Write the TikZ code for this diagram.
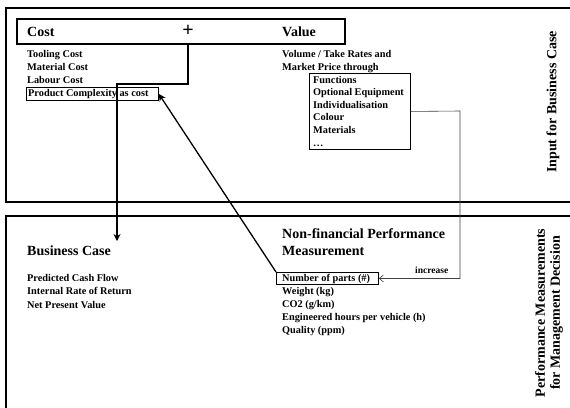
\documentclass[tikz,border=0pt]{standalone}
\usepackage{fontspec}
\setmainfont{Liberation Serif}
\usetikzlibrary{arrows.meta}
\begin{document}
\begin{tikzpicture}[x=1pt,y=-1pt,
  txt/.style={anchor=base west, inner sep=0pt, font=\bfseries\fontsize{10.3}{12}\selectfont},
  head/.style={anchor=base west, inner sep=0pt, font=\bfseries\fontsize{14}{16}\selectfont},
  side/.style={font=\bfseries\fontsize{14}{15}\selectfont, rotate=90, align=center, inner sep=0pt},
  frame/.style={draw, line width=1.5pt},
  boxn/.style={draw, anchor=north west, inner sep=0pt},
  thickarrow/.style={line width=1.3pt, -{Stealth[length=7pt,width=7pt]}},
  thinarrow/.style={line width=0.6pt, draw=black!75, -{Straight Barb[length=4pt,width=7pt]}}
]
\clip (0,0) rectangle (570,407);
% outer frames
\draw[frame] (6,8) rectangle (585,202);
\draw[frame] (6,216) rectangle (585,420);
% header box
\node[boxn, line width=1.5pt, minimum width=328pt, minimum height=25pt] (hdr) at (16,18) {};
\node[head] (cost) at (27,36) {Cost};
\node[inner sep=0pt, font=\bfseries\fontsize{20}{20}\selectfont] (plus) at (188,30.5) {+};
\node[head] (value) at (282,36) {Value};
% cost list
\node[txt] (t1) at (27,57) {Tooling Cost};
\node[txt] (t2) at (27,70) {Material Cost};
\node[txt] (t3) at (27,83) {Labour Cost};
\node[boxn, line width=0.8pt, minimum width=132pt, minimum height=13pt] (pcbox) at (26,87) {};
\node[txt] (t4) at (28,96.5) {Product Complexity as cost};
% value list
\node[txt] (v1) at (282,57) {Volume / Take Rates and};
\node[txt] (v2) at (282,70.5) {Market Price through};
\node[boxn, line width=0.9pt, minimum width=101pt, minimum height=76pt] (sub) at (309,73) {};
\node[txt] (s1) at (313,83) {Functions};
\node[txt] (s2) at (313,95.6) {Optional Equipment};
\node[txt] (s3) at (313,108.2) {Individualisation};
\node[txt] (s4) at (313,120.8) {Colour};
\node[txt] (s5) at (313,133.4) {Materials};
\node[txt] (s6) at (313,146) {\ldots};
% side labels
\node[side] (inp) at (553,102) {Input for Business Case};
\node[side] (perf) at (549,313) {Performance Measurements\\for Management Decision};
% business case
\node[head] (bc) at (27,255) {Business Case};
\node[txt] (b1) at (27,281) {Predicted Cash Flow};
\node[txt] (b2) at (27,294.5) {Internal Rate of Return};
\node[txt] (b3) at (27,308) {Net Present Value};
% non-financial
\node[head] (nf1) at (282,238) {Non-financial Performance};
\node[head] (nf2) at (282,255) {Measurement};
\node[boxn, line width=0.9pt, minimum width=102pt, minimum height=12pt] (np) at (276,272) {};
\node[txt] (n1) at (282,281.5) {Number of parts (\#)};
\node[txt] (n2) at (282,294.5) {Weight (kg)};
\node[txt] (n3) at (282,307.5) {CO2 (g/km)};
\node[txt] (n4) at (282,320.5) {Engineered hours per vehicle (h)};
\node[txt] (n5) at (282,333.5) {Quality (ppm)};
\node[anchor=base west, inner sep=0pt, font=\bfseries\fontsize{9.5}{10}\selectfont] (inc) at (415,273) {increase};
% connectors
\coordinate (bcin) at (117,241);
\coordinate (turn) at (460,111);
\draw[thickarrow] (plus |- hdr.south) -- (188,84) -| (bcin);
\draw[thickarrow] (np.north west) -- (pcbox.east);
\draw[thinarrow] (sub.east) -- (turn) |- (np.east);
\end{tikzpicture}
\end{document}
